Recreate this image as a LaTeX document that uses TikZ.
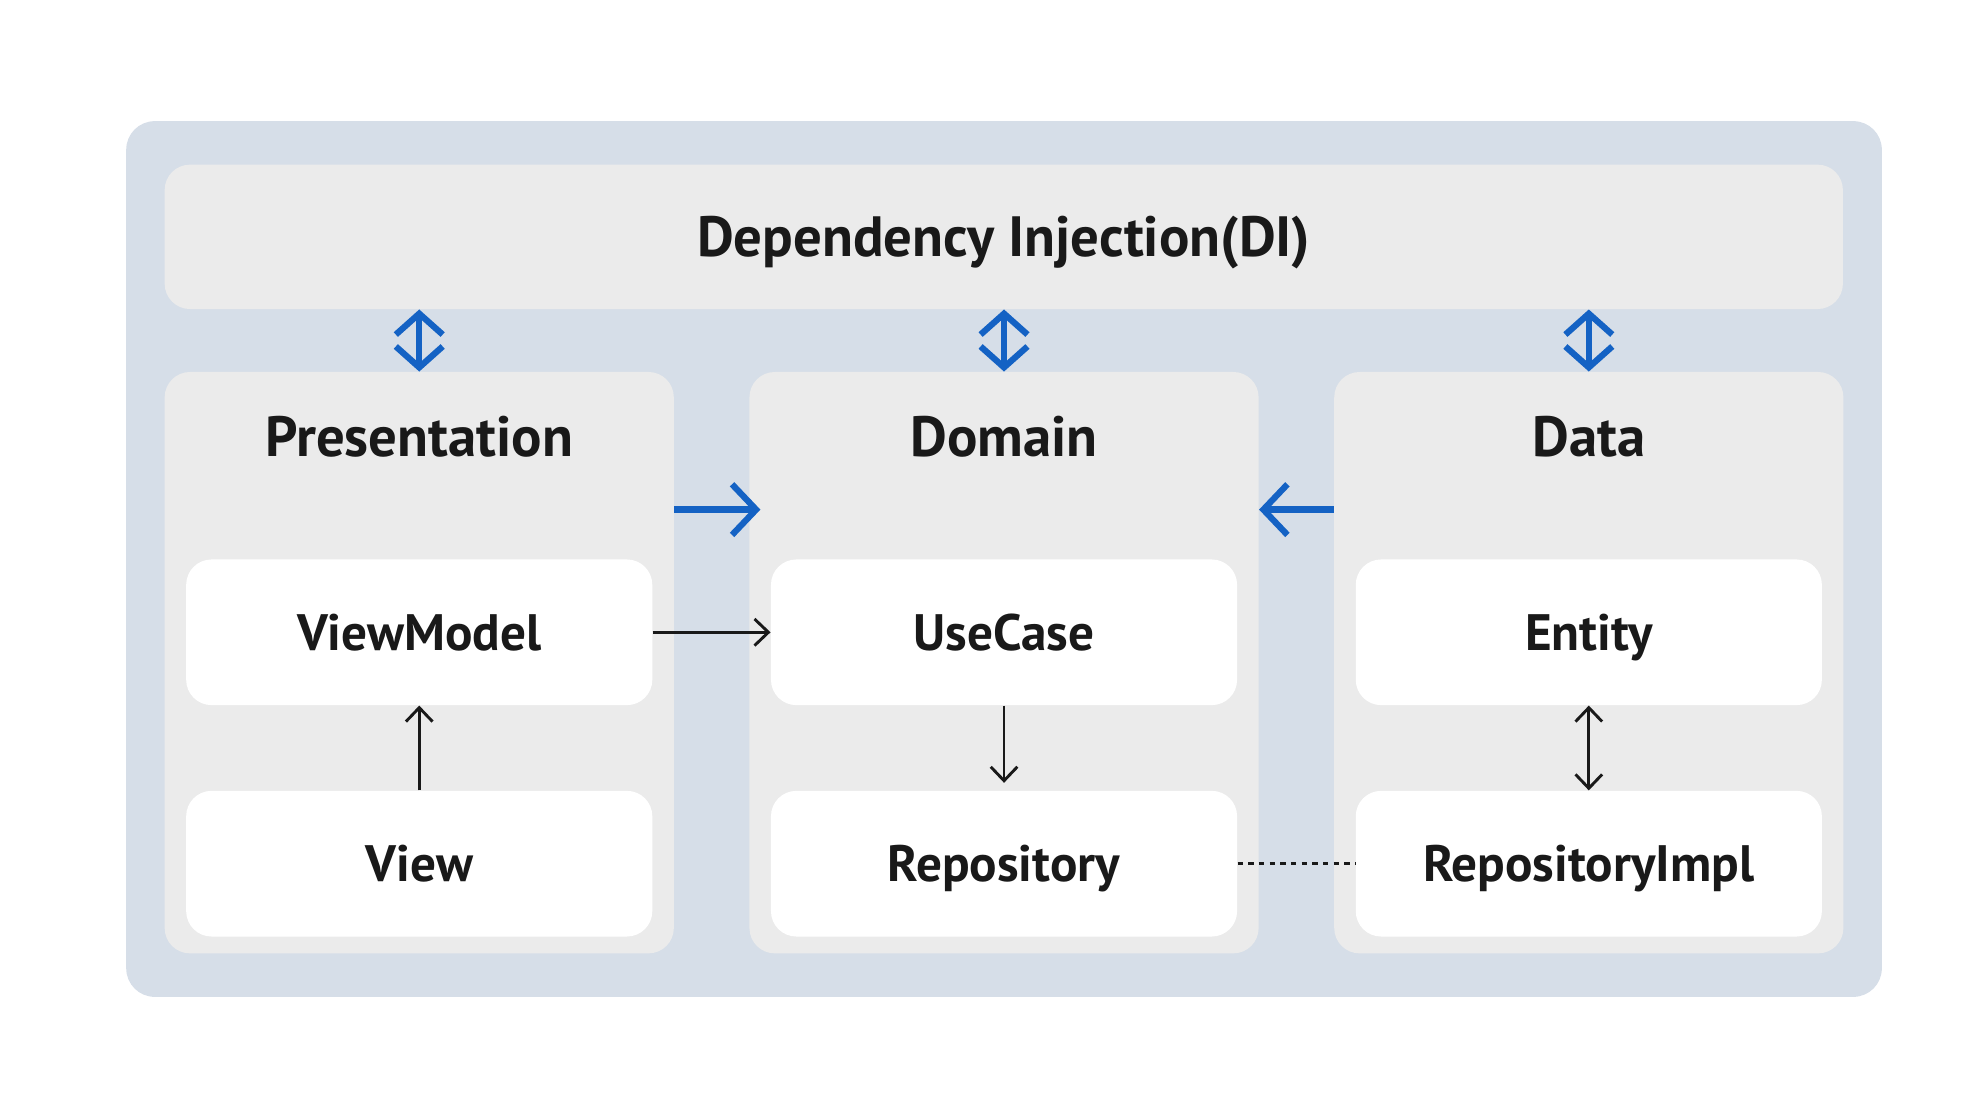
\documentclass[tikz,border=0pt]{standalone}
\usepackage{fontspec}
\setmainfont{PT Sans}
\usetikzlibrary{positioning, fit, backgrounds, arrows.meta}

\begin{document}
\begin{tikzpicture}
    \newlength\hpad
    \newlength\vpad
    \newlength\tpad
    \setlength\hpad{1.18cm}
    \setlength\vpad{1.34cm}
    \setlength\tpad{2.96cm}
    \definecolor{di-blue}{RGB}{20,98,196}
    \definecolor{frame-grey}{RGB}{214,222,232}
    \definecolor{panel-grey}{RGB}{235,235,235}
    \colorlet{label-black}{black!90}
    \tikzset{
        vbarb/.tip={Straight Barb[length=0.33cm, width=0.74cm]},
        hbarb/.tip={Straight Barb[length=0.38cm, width=0.8cm]},
        smallbarb/.tip={Straight Barb[length=0.22cm, width=0.42cm]},
        layer/.style={fill=panel-grey, rounded corners=0.4cm, inner sep=0pt,
            minimum width=8.04cm, minimum height=9.18cm},
        unit/.style={fill=white, rounded corners=0.4cm, inner sep=0pt,
            minimum width=7.36cm, minimum height=2.30cm, text=label-black,
            text height=16pt, text depth=0pt,
            font=\fontsize{23}{27}\selectfont\bfseries},
        heading/.style={text=label-black, text height=18pt, text depth=0pt,
            font=\fontsize{25.5}{30}\selectfont\bfseries},
        inject/.style={di-blue, line width=2.8pt, vbarb-vbarb},
        depends/.style={di-blue, line width=2.8pt, -hbarb},
        calls/.style={label-black, line width=1.3pt, -smallbarb},
        linked/.style={label-black, line width=1.2pt, dash pattern=on 2.4pt off 2.4pt},
    }

    \useasboundingbox (0,0) rectangle (31.36,-17.30);

    % DI CONTAINER
    \node [heading, fill=panel-grey, rounded corners=0.4cm,
        minimum width=26.5cm, minimum height=2.28cm] (di) at (15.85,-3.74)
        {Dependency Injection(DI)};

    % LAYERS
    \node [layer, below = 0.98cm of di.south west, anchor=north west] (pres) {};
    \node [layer, right = \hpad of pres] (domain) {};
    \node [layer, right = \hpad of domain] (data) {};

    \node [heading] (pres-title)   at ([yshift=-1.02cm]pres.north)   {Presentation};
    \node [heading] (domain-title) at ([yshift=-1.02cm]domain.north) {Domain};
    \node [heading] (data-title)   at ([yshift=-1.02cm]data.north)   {Data};

    % PRESENTATION LAYER
    \node [unit, below = \tpad of pres.north, anchor=north] (viewmodel) {ViewModel};
    \node [unit, below = \vpad of viewmodel] (view) {View};

    % DOMAIN LAYER
    \node [unit, below = \tpad of domain.north, anchor=north] (usecase) {UseCase};
    \node [unit, below = \vpad of usecase] (repo) {Repository};

    % DATA LAYER
    \node [unit, below = \tpad of data.north, anchor=north] (entity) {Entity};
    \node [unit, below = \vpad of entity] (impl) {RepositoryImpl};

    % Outer frame
    \begin{scope}[on background layer]
        \node [fit=(di)(pres)(data), inner xsep=0.6cm, inner ysep=0.68cm,
            fill=frame-grey, rounded corners=0.45cm] (frame) {};
    \end{scope}

    % DI arrows
    \foreach \layername in {pres, domain, data}
        \draw[inject] (di.south -| \layername.north) -- (\layername.north);

    % Layer dependencies
    \draw[depends] ([yshift=-2.18cm]pres.north east) -- ([yshift=-2.18cm, xshift=0.18cm]domain.north west);
    \draw[depends] ([yshift=-2.18cm]data.north west) -- ([yshift=-2.18cm]domain.north east);

    % Inner arrows
    \draw[calls] (viewmodel) -- (usecase);
    \draw[calls] (view) -- (viewmodel);
    \draw[calls, shorten >=0.12cm] (usecase) -- (repo);
    \draw[calls, smallbarb-smallbarb] (entity) -- (impl);
    \draw[linked] (repo) -- (impl);
\end{tikzpicture}
\end{document}
